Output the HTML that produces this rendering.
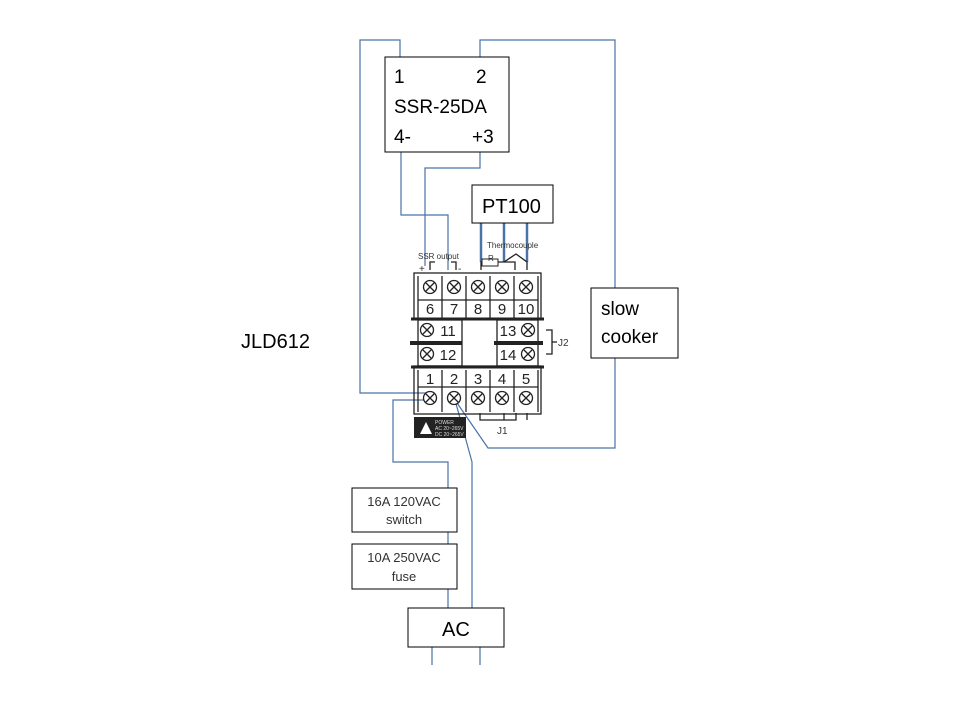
<!DOCTYPE html>
<html><head><meta charset="utf-8"><style>
body{margin:0;background:#fff;width:960px;height:720px;overflow:hidden}
svg{display:block}
text{font-family:"Liberation Sans",sans-serif}
</style></head><body>
<svg width="960" height="720" viewBox="0 0 960 720">
<defs>
<g id="sc"><circle r="6.5" fill="#fff" stroke="#222" stroke-width="1.3"/><path d="M-4.5,-4.5L4.5,4.5M-4.5,4.5L4.5,-4.5" stroke="#222" stroke-width="1.3"/></g>
</defs>
<g fill="none" stroke="#4a73a8" stroke-width="1.2">
<polyline points="400,57 400,40 360,40 360,393 428,393"/>
<polyline points="480,57 480,40 615,40 615,288"/>
<polyline points="615,358 615,448 488,448 455,400"/>
<polyline points="401,152 401,215 448,215 448,270"/>
<polyline points="480,152 480,168 425,168 425,266"/>
<polyline points="428,400 393,400 393,462 448,462 448,488"/>
<line x1="448" y1="532" x2="448" y2="544"/>
<line x1="448" y1="589" x2="448" y2="608"/>
<polyline points="455,400 472,462 472,608"/>
<line x1="432" y1="647" x2="432" y2="665"/>
<line x1="480" y1="647" x2="480" y2="665"/>
</g>
<g fill="none" stroke="#4a73a8" stroke-width="2.5">
<line x1="481" y1="223" x2="481" y2="262"/>
<line x1="504" y1="223" x2="504" y2="262"/>
<line x1="527" y1="223" x2="527" y2="262"/>
</g>
<g fill="#fff" stroke="#000" stroke-width="1">
<rect x="385" y="57" width="124" height="95"/>
<rect x="472" y="185" width="81" height="38"/>
<rect x="591" y="288" width="87" height="70"/>
<rect x="352" y="488" width="105" height="44"/>
<rect x="352" y="544" width="105" height="45"/>
<rect x="408" y="608" width="96" height="39"/>
</g>
<g font-size="19" fill="#000">
<text x="394" y="83">1</text><text x="476" y="83">2</text>
<text x="394" y="113">SSR-25DA</text>
<text x="394" y="143">4-</text><text x="472" y="143">+3</text>
<text x="482" y="213" font-size="20">PT100</text>
<text x="601" y="315">slow</text><text x="601" y="343">cooker</text>
<text x="442" y="636" font-size="20">AC</text>
</g>
<text x="241" y="348" font-size="20">JLD612</text>
<g font-size="13" fill="#333" text-anchor="middle">
<text x="404" y="506">16A 120VAC</text><text x="404" y="524">switch</text>
<text x="404" y="562">10A 250VAC</text><text x="404" y="581">fuse</text>
</g>
<g stroke="#222" fill="none" stroke-width="1.3">
<rect x="414" y="273" width="127" height="46"/>
<line x1="411" y1="319" x2="544" y2="319" stroke-width="3"/>
<line x1="418" y1="300" x2="538" y2="300"/>
<line x1="442" y1="276" x2="442" y2="318"/><line x1="466" y1="276" x2="466" y2="318"/>
<line x1="490" y1="276" x2="490" y2="318"/><line x1="514" y1="276" x2="514" y2="318"/>
<line x1="418" y1="276" x2="418" y2="318"/><line x1="538" y1="276" x2="538" y2="318"/>
<rect x="418" y="320" width="44" height="46"/>
<rect x="497" y="320" width="41" height="46"/>
<line x1="410" y1="343" x2="462" y2="343" stroke-width="4"/>
<line x1="494" y1="343" x2="543" y2="343" stroke-width="4"/>
<rect x="414" y="366" width="127" height="48"/>
<line x1="411" y1="367" x2="544" y2="367" stroke-width="3"/>
<line x1="418" y1="387" x2="538" y2="387"/>
<line x1="442" y1="370" x2="442" y2="412"/><line x1="466" y1="370" x2="466" y2="412"/>
<line x1="490" y1="370" x2="490" y2="412"/><line x1="514" y1="370" x2="514" y2="412"/>
<line x1="418" y1="370" x2="418" y2="412"/><line x1="538" y1="370" x2="538" y2="412"/>
<polyline points="546,330 552,330 552,354 546,354"/><line x1="552" y1="342" x2="557" y2="342"/>
<polyline points="480,413 480,420 516,420 516,413"/><line x1="504" y1="413" x2="504" y2="420"/>
<line x1="527" y1="413" x2="527" y2="420"/>
<polyline points="430,270 430,262 435,262"/><polyline points="451,262 456,262 456,270"/>
<polyline points="481,270 481,262 515,262 515,270"/><polyline points="504,262 516,254 527,262 527,270"/>
</g>
<rect x="482" y="259" width="16" height="7" fill="#fff" stroke="#222"/>
<use href="#sc" x="430" y="287"/><use href="#sc" x="454" y="287"/><use href="#sc" x="478" y="287"/>
<use href="#sc" x="502" y="287"/><use href="#sc" x="526" y="287"/>
<use href="#sc" x="427" y="330"/><use href="#sc" x="427" y="354"/>
<use href="#sc" x="528" y="330"/><use href="#sc" x="528" y="354"/>
<use href="#sc" x="430" y="398"/><use href="#sc" x="454" y="398"/><use href="#sc" x="478" y="398"/>
<use href="#sc" x="502" y="398"/><use href="#sc" x="526" y="398"/>
<g font-size="15" fill="#222" text-anchor="middle">
<text x="430" y="314">6</text><text x="454" y="314">7</text><text x="478" y="314">8</text>
<text x="502" y="314">9</text><text x="526" y="314">10</text>
<text x="448" y="336">11</text><text x="448" y="360">12</text>
<text x="508" y="336">13</text><text x="508" y="360">14</text>
<text x="430" y="384">1</text><text x="454" y="384">2</text><text x="478" y="384">3</text>
<text x="502" y="384">4</text><text x="526" y="384">5</text>
</g>
<g font-size="8" fill="#333">
<text x="418" y="259">SSR output</text><text x="487" y="248">Thermocouple</text>
<text x="488" y="261">R</text><text x="419" y="272" font-size="10">+</text><text x="458" y="272" font-size="10">-</text>
<text x="558" y="346" font-size="10">J2</text><text x="497" y="434" font-size="10">J1</text>
</g>
<rect x="414" y="417" width="52" height="21" fill="#222"/>
<polygon points="420,434 426,422 432,434" fill="#fff"/>
<g font-size="5" fill="#ddd"><text x="435" y="424">POWER</text><text x="435" y="430">AC 20~265V</text><text x="435" y="436">DC 20~265V</text></g>
</svg>
</body></html>
